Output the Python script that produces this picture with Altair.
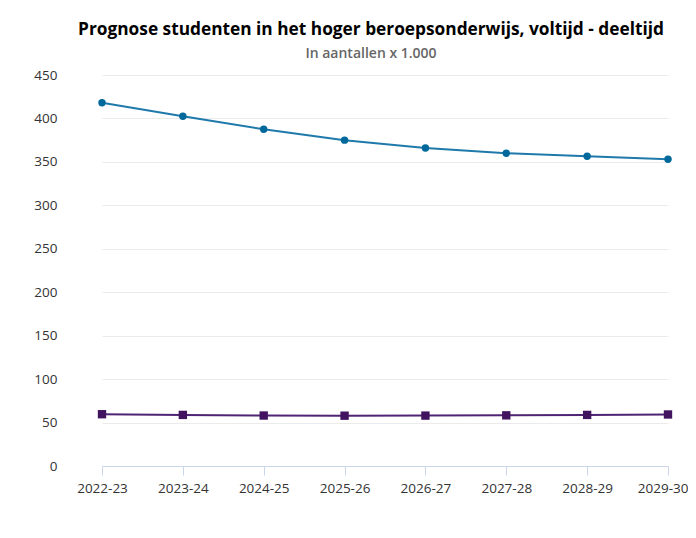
import altair as alt
import pandas as pd

years = ["2022-23", "2023-24", "2024-25", "2025-26", "2026-27", "2027-28", "2028-29", "2029-30"]
voltijd = [418, 402.5, 387.5, 375, 366, 360, 356.5, 353]
deeltijd = [59.6, 58.8, 58.1, 57.9, 58.0, 58.3, 58.8, 59.3]
series = ["voltijd", "deeltijd"]
line_colors = ["#1f7aab", "#4f2474"]
point_colors = ["#01689b", "#42145f"]
point_shapes = ["circle", "square"]
point_sizes = [55, 70]

rows = []
for i, y in enumerate(years):
    rows.append({"jaar": y, "serie": "voltijd", "waarde": voltijd[i]})
    rows.append({"jaar": y, "serie": "deeltijd", "waarde": deeltijd[i]})
df = pd.DataFrame(rows)

FONT = "Open Sans"

last_test = "datum.value === '" + years[-1] + "'"

x_enc = alt.X("jaar:N", sort=years, title=None,
              scale=alt.Scale(type="point", domain=years, range=[40, 606], padding=0),
              axis=alt.Axis(labelAngle=0, domainColor="#ccd6eb", tickColor="#ccd6eb",
                            tickSize=9, labelPadding=6, labelFontSize=13.5,
                            labelColor="#333333", labelFont=FONT, grid=False,
                            labelAlign={"condition": {"test": last_test, "value": "right"},
                                        "value": "center"},
                            labelOffset={"condition": {"test": last_test, "value": 20},
                                         "value": 0}))
y_enc = alt.Y("waarde:Q", title=None,
              scale=alt.Scale(domain=[0, 450], nice=False, zero=True),
              axis=alt.Axis(values=list(range(0, 451, 50)), domain=False, ticks=False,
                            labelPadding=5, labelFontSize=13.5, labelColor="#333333",
                            labelFont=FONT, gridColor="#ebebeb", gridWidth=1))

lines = alt.Chart(df).mark_line(strokeWidth=2).encode(
    x=x_enc, y=y_enc,
    stroke=alt.Stroke("serie:N", scale=alt.Scale(domain=series, range=line_colors), legend=None),
    detail="serie:N",
)

leg = alt.Legend(orient="none", direction="horizontal", legendX=242, legendY=440,
                 symbolSize=70, title=None,
                 labelFont=FONT, labelFontSize=13.5, labelFontWeight="bold",
                 labelColor="#1a6a9a", columnPadding=18, symbolOpacity=1,
                 labelOffset=5)

points = alt.Chart(df).mark_point(filled=True, opacity=1).encode(
    x=x_enc, y=y_enc,
    color=alt.Color("serie:N", scale=alt.Scale(domain=series, range=point_colors), legend=leg),
    shape=alt.Shape("serie:N", scale=alt.Scale(domain=series, range=point_shapes), legend=leg),
    size=alt.Size("serie:N", scale=alt.Scale(domain=series, range=point_sizes), legend=None),
)

chart = alt.layer(lines, points).properties(
    width=626, height=391,
    title=alt.TitleParams(
        text="Prognose studenten in het hoger beroepsonderwijs, voltijd - deeltijd",
        subtitle="In aantallen x 1.000",
        anchor="middle", frame="group", font=FONT, fontSize=17.3, fontWeight="bold",
        color="#000000", subtitleFont=FONT, subtitleFontSize=14, subtitleFontWeight=600,
        subtitleColor="#666666", offset=7, subtitlePadding=9, dx=-4,
    ),
    autosize=alt.AutoSizeParams(type="none"),
    padding={"left": 54, "top": 67, "right": 0, "bottom": 64},
).configure(background="white", view=alt.ViewConfig(stroke=None))

chart.save("out.html", embed_options={"renderer": "svg", "actions": False})
